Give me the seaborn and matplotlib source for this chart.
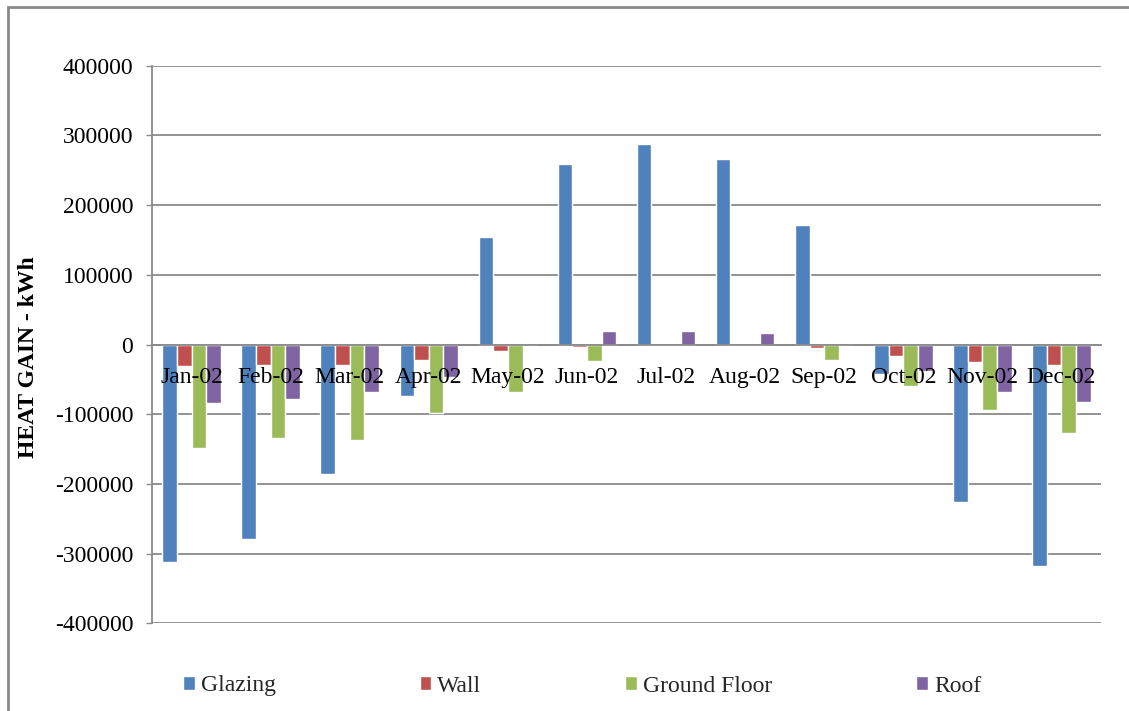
import matplotlib
matplotlib.use("Agg")
import matplotlib.pyplot as plt
from matplotlib.patches import Rectangle
import pandas as pd
import seaborn as sns

# Monthly heat gain through each building element (kWh)
months = ["Jan-02", "Feb-02", "Mar-02", "Apr-02", "May-02", "Jun-02",
          "Jul-02", "Aug-02", "Sep-02", "Oct-02", "Nov-02", "Dec-02"]
components = ["Glazing", "Wall", "Ground Floor", "Roof"]
glazing = [-311500, -279500, -186000, -74000, 153700, 259800,
           287700, 266600, 171300, -42000, -226000, -317600]
wall = [-31000, -29000, -29000, -21500, -9000, -3000,
        -1800, -1800, -4400, -16000, -24500, -29500]
ground_floor = [-148000, -134000, -137500, -97500, -68000, -23500,
                -500, -1500, -22300, -59000, -93500, -127000]
roof = [-84000, -78000, -68000, -47000, -1500, 19500,
        19500, 16200, 2500, -37500, -68000, -82000]
y_ticks = [-400000, -300000, -200000, -100000, 0,
           100000, 200000, 300000, 400000]
palette = ["#4F81BD", "#C0504D", "#9BBB59", "#8064A2"]

series = [glazing, wall, ground_floor, roof]
df = pd.DataFrame({
    "month": [m for _ in components for m in months],
    "component": [c for c in components for _ in months],
    "value": [v for s in series for v in s],
})

sns.set_theme(style="white")
plt.rcParams["font.family"] = ["Liberation Serif", "DejaVu Serif"]

W, H = 1129, 711
fig = plt.figure(figsize=(W / 100, H / 100), dpi=100)
fig.patch.set_facecolor("white")
ax = fig.add_axes([152 / W, 1 - 623.4 / H, (1101 - 152) / W, (623.4 - 65.8) / H])

sns.barplot(data=df, x="month", y="value", hue="component",
            order=months, hue_order=components, palette=palette,
            width=0.74, saturation=1, errorbar=None, ax=ax, legend=True,
            zorder=3)

grid_color = "#8a8a8a"
ax.set_ylim(-400000, 400000)
ax.set_yticks(y_ticks)
ax.set_yticklabels([str(v) for v in y_ticks])
ax.yaxis.grid(True, color=grid_color, linewidth=1.3, zorder=0)
ax.set_axisbelow(True)
# month labels sit on top of the bars
ax.xaxis.set_zorder(5)

ax.tick_params(axis="y", which="both", left=True, direction="out",
               length=4.5, width=1.0, color=grid_color, pad=9,
               labelsize=17, labelcolor="black")
ax.tick_params(axis="x", bottom=False, length=0, pad=16,
               labelsize=17, labelcolor="black")

for side in ["top", "right"]:
    ax.spines[side].set_visible(False)
ax.spines["left"].set_color(grid_color)
ax.spines["left"].set_linewidth(1.3)
ax.spines["bottom"].set_position(("data", 0))
ax.spines["bottom"].set_color(grid_color)
ax.spines["bottom"].set_linewidth(1.3)
ax.spines["bottom"].set_zorder(4)

ax.set_xlabel("")
ax.set_ylabel("HEAT GAIN - kWh", fontsize=17, fontweight="bold", color="black")
ax.yaxis.set_label_coords((39 - 152) / (1101 - 152), 1 - (357 - 65.8) / (623.4 - 65.8))

handles, labels = ax.get_legend_handles_labels()
ax.legend_.remove()
fig.legend(handles, labels, loc="center", ncol=4,
           bbox_to_anchor=(582 / W, 1 - 686 / H), frameon=False,
           fontsize=17, handlelength=0.5, handleheight=0.5,
           handletextpad=0.25, columnspacing=6.1, borderpad=0)

# Chart-area frame
fig.add_artist(Rectangle((8 / W, -0.2), 1.5, 1.2 - 7 / H,
                         transform=fig.transFigure, fill=False,
                         edgecolor="#8a8a8a", linewidth=2.0))

fig.savefig("out.png", dpi=100, facecolor="white")
